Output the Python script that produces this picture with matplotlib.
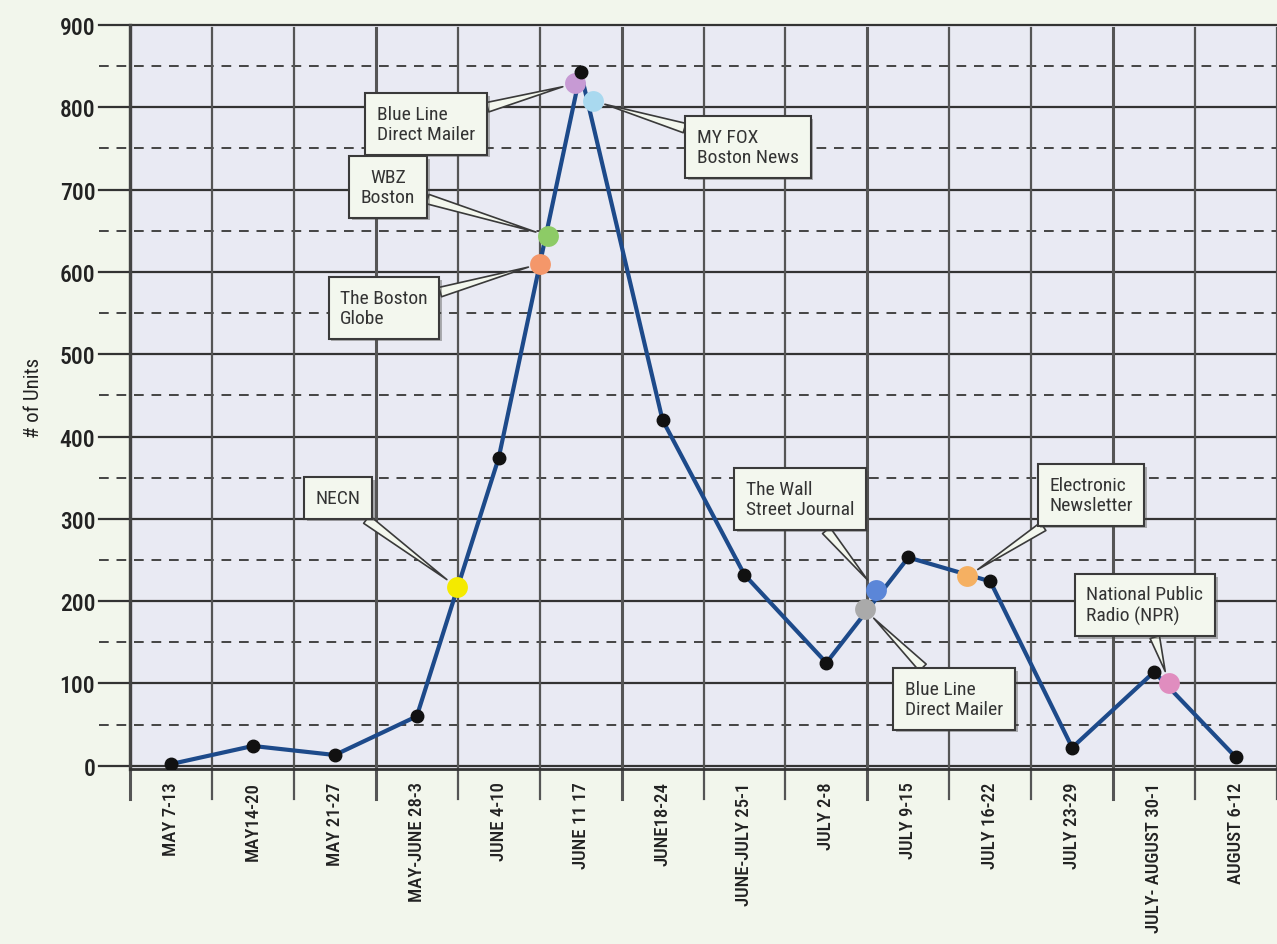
import matplotlib
matplotlib.use("Agg")
import matplotlib.pyplot as plt
import matplotlib.patheffects as pe
import matplotlib.font_manager as fm

names = {f.name for f in fm.fontManager.ttflist}
FAM = ["DejaVu Sans"]
for cand in ["Roboto Condensed", "Archivo Narrow", "PT Sans Narrow", "Liberation Sans Narrow",
             "Arial Narrow", "Liberation Sans"]:
    if cand in names:
        FAM = [cand, "DejaVu Sans"]
        break
plt.rcParams['font.family'] = FAM

# ---- data ----
weeks = ["MAY 7-13", "MAY14-20", "MAY 21-27", "MAY-JUNE 28-3", "JUNE 4-10", "JUNE 11 17",
         "JUNE18-24", "JUNE-JULY 25-1", "JULY 2-8", "JULY 9-15", "JULY 16-22",
         "JULY 23-29", "JULY- AUGUST 30-1", "AUGUST 6-12"]
units = [2, 24, 13, 60, 374, 843, 420, 232, 125, 253, 224, 22, 114, 10]

event_names = ["NECN", "The Boston\nGlobe", "WBZ\nBoston", "Blue Line\nDirect Mailer",
               "MY FOX\nBoston News", "The Wall\nStreet Journal", "Blue Line\nDirect Mailer",
               "Electronic\nNewsletter", "National Public\nRadio (NPR)"]
event_pos = [3.49, 4.51, 4.60, 4.93, 5.15, 8.60, 8.47, 9.72, 12.18]
event_val = [217, 610, 644, 829, 808, 214, 190, 230, 100]
event_colors = ["#f4ea00", "#f4976a", "#8dcb66", "#c79ad4", "#a9d9ef", "#5b86d8",
                "#aaaaaa", "#f5b062", "#e08dbf"]
# label box centres in figure pixels (x from left, y from top)
box_px = [(338, 499), (384, 309), (388, 188), (426, 125), (748, 148), (800, 500),
          (954, 700), (1091, 496), (1145, 606)]
box_align = ["center", "left", "center", "left", "left", "left", "left", "left", "left"]

W, H = 1277, 945
fig = plt.figure(figsize=(W / 100, H / 100), dpi=100)
fig.patch.set_facecolor("#f2f6ec")
ax = fig.add_axes([130 / W, 1 - 770 / H, (W - 130) / W, (770 - 26) / H])
ax.set_facecolor("#e9eaf3")

n = len(weeks)
ax.set_xlim(-0.5, n - 0.5)
ax.set_ylim(-4, 900)

# grid lines (horizontal, extending left of the axis)
for v in range(0, 901, 100):
    ax.axhline(v, xmin=-0.027, xmax=1, color="#333333", lw=1.6, clip_on=False, zorder=1)
for v in range(50, 900, 100):
    ax.axhline(v, xmin=-0.027, xmax=1, color="#444444", lw=1.4, ls=(0, (5, 4)),
               clip_on=False, zorder=1)
# vertical lines at category boundaries, extending below
for k in range(n + 1):
    ax.axvline(k - 0.5, ymin=-0.04, ymax=0.9955 if k else 1, color="#555555",
               lw=2.2 if k % 3 == 0 else 1.6, clip_on=False, zorder=1)

for s in ax.spines.values():
    s.set_visible(False)
ax.spines['bottom'].set_visible(True)
ax.spines['bottom'].set_color("#333333")
ax.spines['bottom'].set_linewidth(2)
ax.spines['left'].set_visible(True)
ax.spines['left'].set_color("#444444")
ax.spines['left'].set_linewidth(2.4)

ax.set_yticks(range(0, 901, 100))
ax.set_yticklabels([str(v) for v in range(0, 901, 100)], fontsize=17, color="#222222",
                   fontweight="medium")
ax.tick_params(axis='y', length=0, pad=25)
ax.set_xticks(range(n))
ax.set_xticklabels(weeks, rotation=90, fontsize=13.5, color="#222222", va="top",
                   fontweight="medium")
ax.tick_params(axis='x', length=0, pad=9)
ax.set_ylabel("# of Units", fontsize=15, color="#222222", labelpad=12)

# main line
ax.plot(range(n), units, color="#1d4a8a", lw=3, zorder=4)
ax.plot(range(n), units, 'o', color="#111111", ms=9, zorder=6)

# event markers
for xp, yv, c in zip(event_pos, event_val, event_colors):
    ax.plot(xp, yv, 'o', color=c, ms=15, mec="none", zorder=5)

# callouts
for name, xp, yv, (bx, by), al in zip(event_names, event_pos, event_val, box_px, box_align):
    t = ax.annotate(name, xy=(xp, yv), xytext=(bx / W, 1 - by / H), textcoords="figure fraction",
                    ha="center", va="center", multialignment=al, fontsize=14, color="#333333",
                    linespacing=1.15,
                    bbox=dict(boxstyle="square,pad=0.6", fc="#f3f7ee", ec="#3a3a3a", lw=1.5),
                    arrowprops=dict(arrowstyle="wedge,tail_width=0.5,shrink_factor=0.5",
                                    fc="#f3f7ee", ec="#3a3a3a", lw=1.2,
                                    shrinkA=0, shrinkB=9),
                    zorder=7)
    t.get_bbox_patch().set_path_effects([pe.SimplePatchShadow(offset=(2, -2), alpha=0.4), pe.Normal()])

fig.savefig("out.png", dpi=100, facecolor=fig.get_facecolor())
